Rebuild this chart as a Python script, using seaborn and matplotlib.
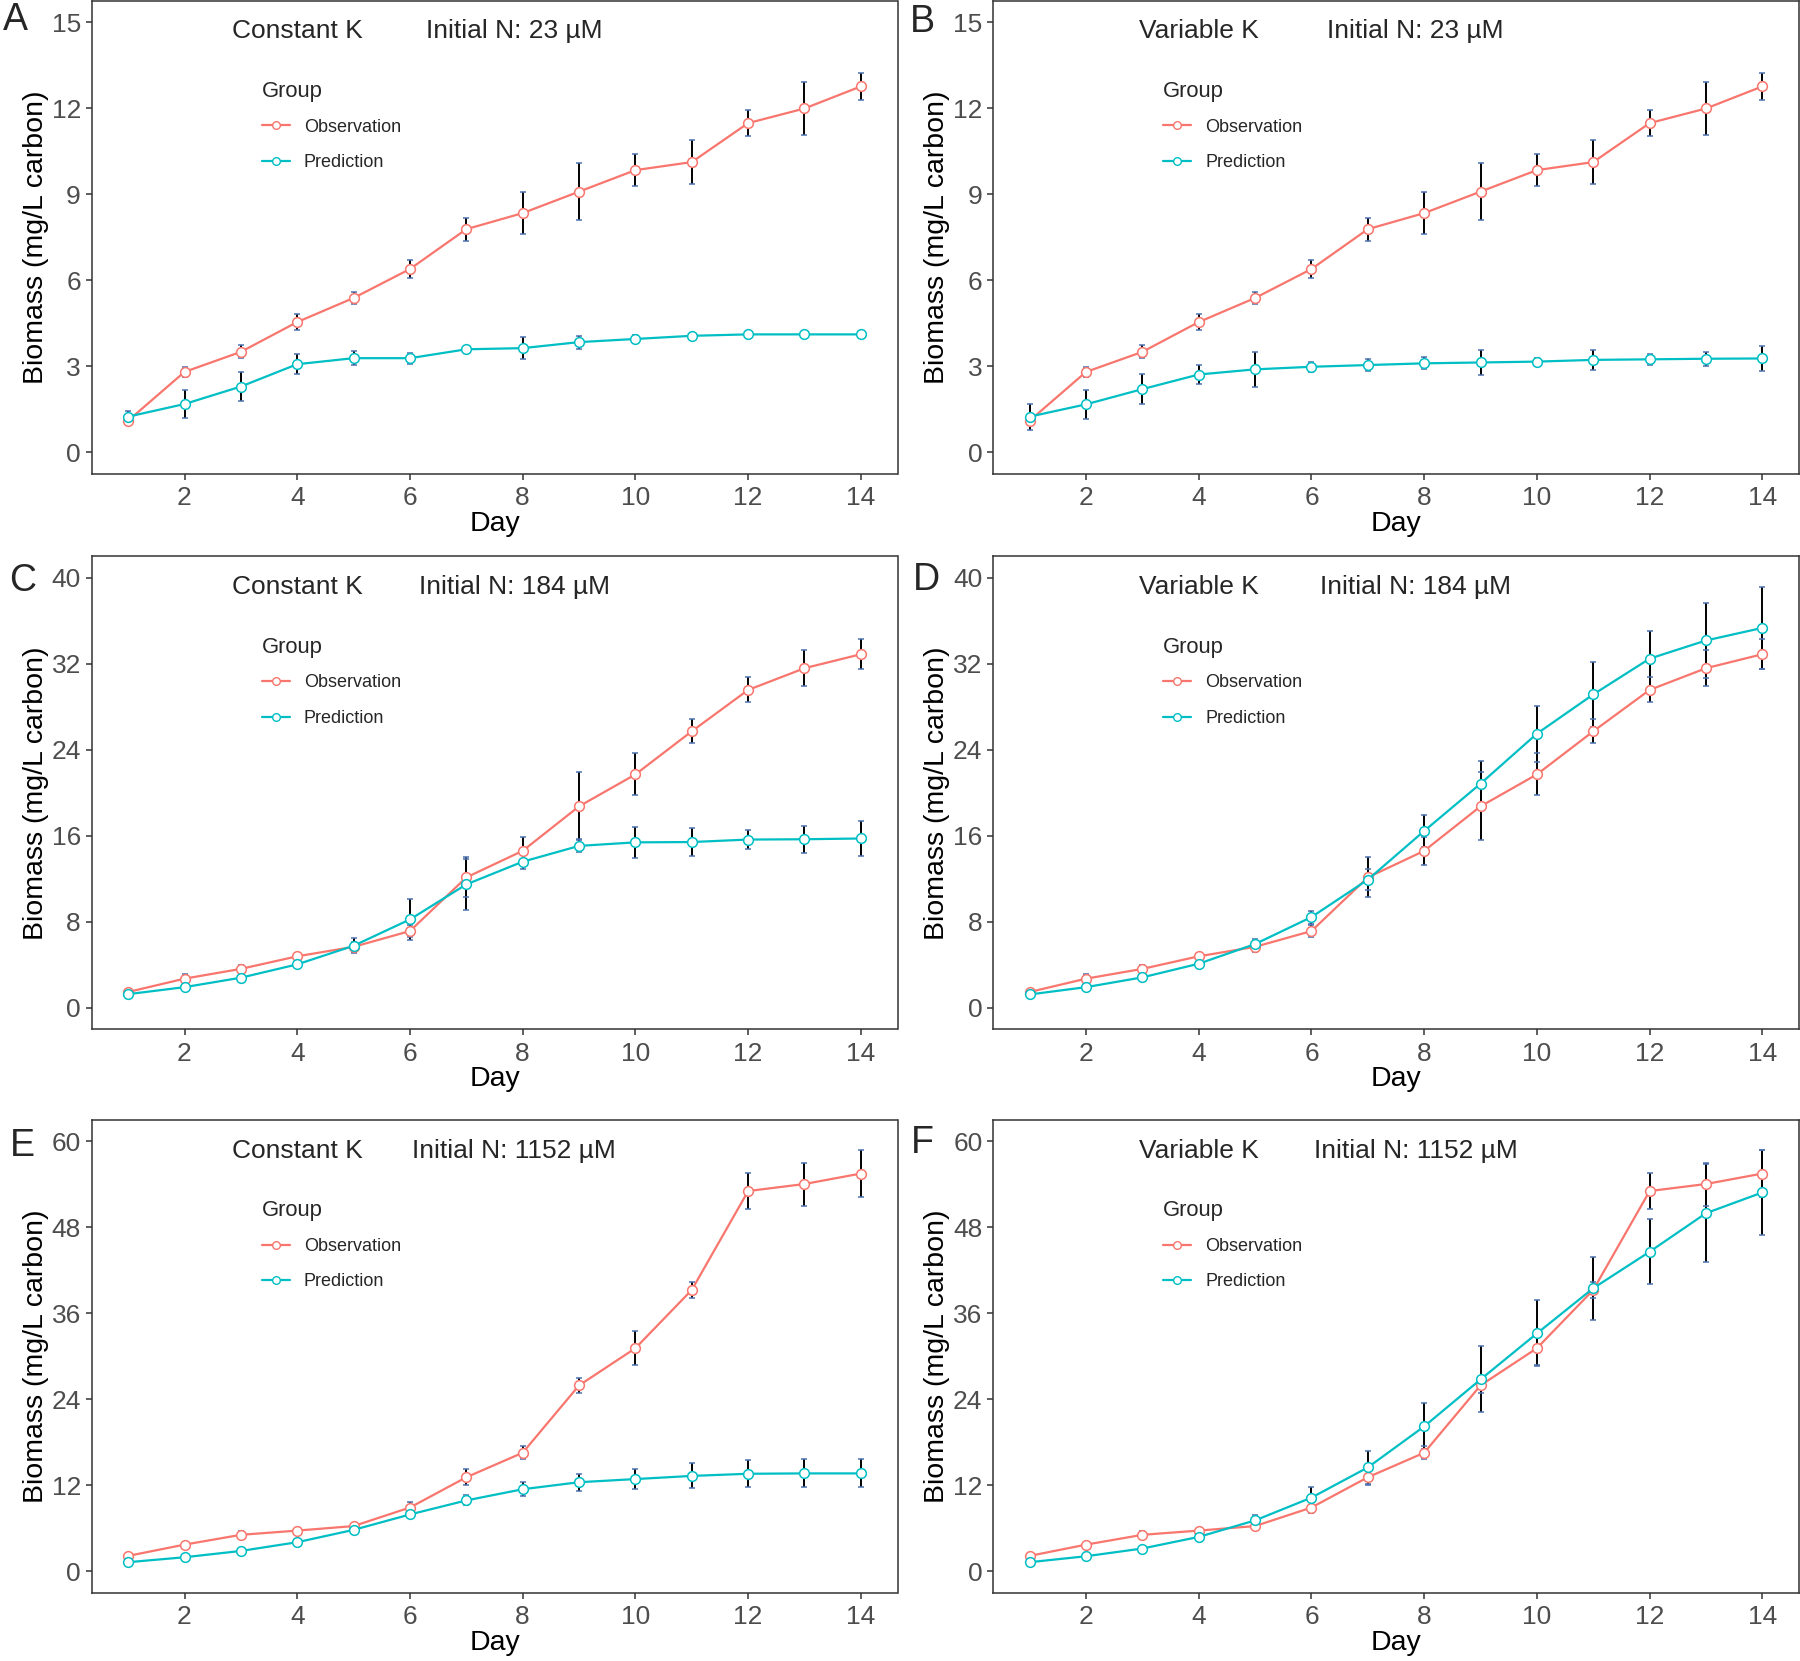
import pandas as pd
import matplotlib.pyplot as plt
import matplotlib.transforms as mtransforms
from matplotlib.lines import Line2D
import seaborn as sns

# Sampling days
days = list(range(1, 15))

# Initial N = 23 uM
obs_n23 = [1.10, 2.80, 3.50, 4.54, 5.38, 6.39, 7.78, 8.34, 9.09, 9.84, 10.12, 11.48, 11.99, 12.76]
obs_n23_sd = [0.15, 0.18, 0.23, 0.29, 0.22, 0.32, 0.40, 0.72, 0.99, 0.57, 0.76, 0.46, 0.91, 0.48]
pred_n23_const = [1.24, 1.68, 2.29, 3.07, 3.28, 3.28, 3.59, 3.63, 3.84, 3.95, 4.06, 4.11, 4.11, 4.11]
pred_n23_const_sd = [0.20, 0.50, 0.52, 0.35, 0.24, 0.19, 0.12, 0.39, 0.23, 0.13, 0.05, 0.10, 0.05, 0.05]
pred_n23_var = [1.24, 1.67, 2.20, 2.71, 2.89, 2.98, 3.04, 3.10, 3.13, 3.16, 3.22, 3.24, 3.26, 3.27]
pred_n23_var_sd = [0.45, 0.50, 0.52, 0.33, 0.60, 0.18, 0.20, 0.21, 0.42, 0.12, 0.35, 0.20, 0.24, 0.42]

# Initial N = 184 uM
obs_n184 = [1.47, 2.71, 3.62, 4.79, 5.67, 7.14, 12.13, 14.60, 18.74, 21.71, 25.72, 29.57, 31.59, 32.89]
obs_n184_sd = [0.10, 0.40, 0.40, 0.30, 0.45, 0.60, 1.86, 1.27, 3.15, 1.95, 1.10, 1.16, 1.70, 1.42]
pred_n184_const = [1.27, 1.92, 2.80, 4.04, 5.77, 8.22, 11.48, 13.59, 15.06, 15.39, 15.42, 15.65, 15.68, 15.75]
pred_n184_const_sd = [0.20, 0.25, 0.30, 0.30, 0.70, 1.90, 2.35, 0.70, 0.60, 1.47, 1.27, 0.86, 1.27, 1.66]
pred_n184_var = [1.24, 1.92, 2.83, 4.10, 5.93, 8.44, 11.92, 16.45, 20.85, 25.50, 29.15, 32.48, 34.17, 35.34]
pred_n184_var_sd = [0.20, 0.25, 0.30, 0.30, 0.50, 0.60, 1.00, 1.50, 2.10, 2.60, 3.00, 2.60, 3.50, 3.80]

# Initial N = 1152 uM
obs_n1152 = [2.15, 3.72, 5.09, 5.68, 6.31, 8.90, 13.12, 16.54, 25.94, 31.13, 39.26, 53.06, 54.04, 55.50]
obs_n1152_sd = [0.20, 0.30, 0.60, 0.30, 0.40, 0.80, 1.10, 0.90, 1.10, 2.40, 1.10, 2.50, 3.00, 3.30]
pred_n1152_const = [1.27, 1.96, 2.84, 4.06, 5.78, 7.93, 9.89, 11.45, 12.43, 12.87, 13.31, 13.61, 13.66, 13.66]
pred_n1152_const_sd = [0.10, 0.15, 0.20, 0.25, 0.30, 0.40, 0.70, 1.00, 1.20, 1.35, 1.75, 1.90, 1.95, 1.95]
pred_n1152_var = [1.27, 2.10, 3.18, 4.80, 7.10, 10.28, 14.49, 20.22, 26.77, 33.19, 39.50, 44.59, 49.97, 52.86]
pred_n1152_var_sd = [0.10, 0.15, 0.20, 0.30, 0.80, 1.50, 2.25, 3.20, 4.60, 4.60, 4.40, 4.50, 6.80, 5.90]

yticks_n23 = [0, 3, 6, 9, 12, 15]
yticks_n184 = [0, 8, 16, 24, 32, 40]
yticks_n1152 = [0, 12, 24, 36, 48, 60]
xticks = [2, 4, 6, 8, 10, 12, 14]

panels = [
    ("A", "Constant K", "Initial N: 23 µM", obs_n23, obs_n23_sd, pred_n23_const, pred_n23_const_sd, yticks_n23),
    ("B", "Variable K", "Initial N: 23 µM", obs_n23, obs_n23_sd, pred_n23_var, pred_n23_var_sd, yticks_n23),
    ("C", "Constant K", "Initial N: 184 µM", obs_n184, obs_n184_sd, pred_n184_const, pred_n184_const_sd, yticks_n184),
    ("D", "Variable K", "Initial N: 184 µM", obs_n184, obs_n184_sd, pred_n184_var, pred_n184_var_sd, yticks_n184),
    ("E", "Constant K", "Initial N: 1152 µM", obs_n1152, obs_n1152_sd, pred_n1152_const, pred_n1152_const_sd, yticks_n1152),
    ("F", "Variable K", "Initial N: 1152 µM", obs_n1152, obs_n1152_sd, pred_n1152_var, pred_n1152_var_sd, yticks_n1152),
]

sns.set_theme(style="white")
plt.rcParams["font.family"] = ["Liberation Sans", "DejaVu Sans"]

palette = {"Observation": "#F8766D", "Prediction": "#00BFC4"}

W, H = 1800, 1661
fig = plt.figure(figsize=(W / 100, H / 100), dpi=100)

# panel layout in pixels: axes left/top and panel letter centre
lefts = [91.5, 993]
tops = [0.7, 556.3, 1119.8]
ax_w, ax_h = 806, 473
letter_pos = [(15, 20), (922, 22), (23, 581), (926, 580), (22, 1146), (922, 1143)]

for i, (letter, k_text, n_text, obs, obs_sd, pred, pred_sd, yt) in enumerate(panels):
    row, col = divmod(i, 2)
    left, top = lefts[col], tops[row]
    ax = fig.add_axes([left / W, 1 - (top + ax_h) / H, ax_w / W, ax_h / H])

    df = pd.DataFrame({
        "Day": days * 2,
        "Biomass": obs + pred,
        "Group": ["Observation"] * len(days) + ["Prediction"] * len(days),
    })

    # error bars first so the points sit on top
    ax.errorbar(days, obs, yerr=obs_sd, fmt="none", ecolor="black",
                elinewidth=1.4, capsize=2.3, capthick=1.4, zorder=1.5)
    ax.errorbar(days, pred, yerr=pred_sd, fmt="none", ecolor="black",
                elinewidth=1.4, capsize=2.3, capthick=1.4, zorder=1.5)

    sns.lineplot(data=df, x="Day", y="Biomass", hue="Group", palette=palette,
                 hue_order=["Observation", "Prediction"], marker="o",
                 markersize=7, linewidth=1.6, errorbar=None, legend=False, ax=ax)
    for line in ax.lines:
        c = line.get_color()
        line.set_markerfacecolor("white")
        line.set_markeredgecolor(c)
        line.set_markeredgewidth(1.1)
        line.set_zorder(2)

    ymax = yt[-1]
    ax.set_xlim(0.35, 14.65)
    ax.set_ylim(-ymax * 0.05, ymax * 1.05)
    ax.set_xticks(xticks)
    ax.set_yticks(yt)

    for s in ax.spines.values():
        s.set_visible(True)
        s.set_color("#333333")
        s.set_linewidth(1.1)
    ax.tick_params(axis="both", length=4, width=1.1, color="#333333",
                   labelsize=19, labelcolor="#4D4D4D", bottom=True, left=True)
    ax.tick_params(axis="x", pad=5)
    ax.tick_params(axis="y", pad=3.6)

    ax.set_xlabel("Day", fontsize=20.5, color="black")
    ax.set_ylabel("Biomass (mg/L carbon)", fontsize=20.5, color="black")
    ax.xaxis.set_label_coords(0.5, -0.078)
    ax.yaxis.set_label_coords(-0.053, 0.5)

    trans = mtransforms.blended_transform_factory(ax.transData, ax.transAxes)
    ax.text(4, 0.935, k_text, transform=trans, ha="center", va="center", fontsize=19)
    ax.text(7.85, 0.935, n_text, transform=trans, ha="center", va="center", fontsize=19)

    handles = [Line2D([], [], color=palette[g], marker="o", markerfacecolor="white",
                      markeredgecolor=palette[g], markersize=5.5, linewidth=1.6)
               for g in ["Observation", "Prediction"]]
    leg = ax.legend(handles, ["Observation", "Prediction"], title="Group", loc="upper left",
                    bbox_to_anchor=(0.211, 0.83), frameon=False, fontsize=13,
                    title_fontsize=15.8, handlelength=1.55, handletextpad=0.8,
                    labelspacing=1.03, borderpad=0, borderaxespad=0, alignment="left")
    leg._legend_box.sep = 12

    lx, ly = letter_pos[i]
    fig.text(lx / W, 1 - ly / H, letter, ha="center", va="center", fontsize=27)

fig.savefig("out.png", dpi=100)
